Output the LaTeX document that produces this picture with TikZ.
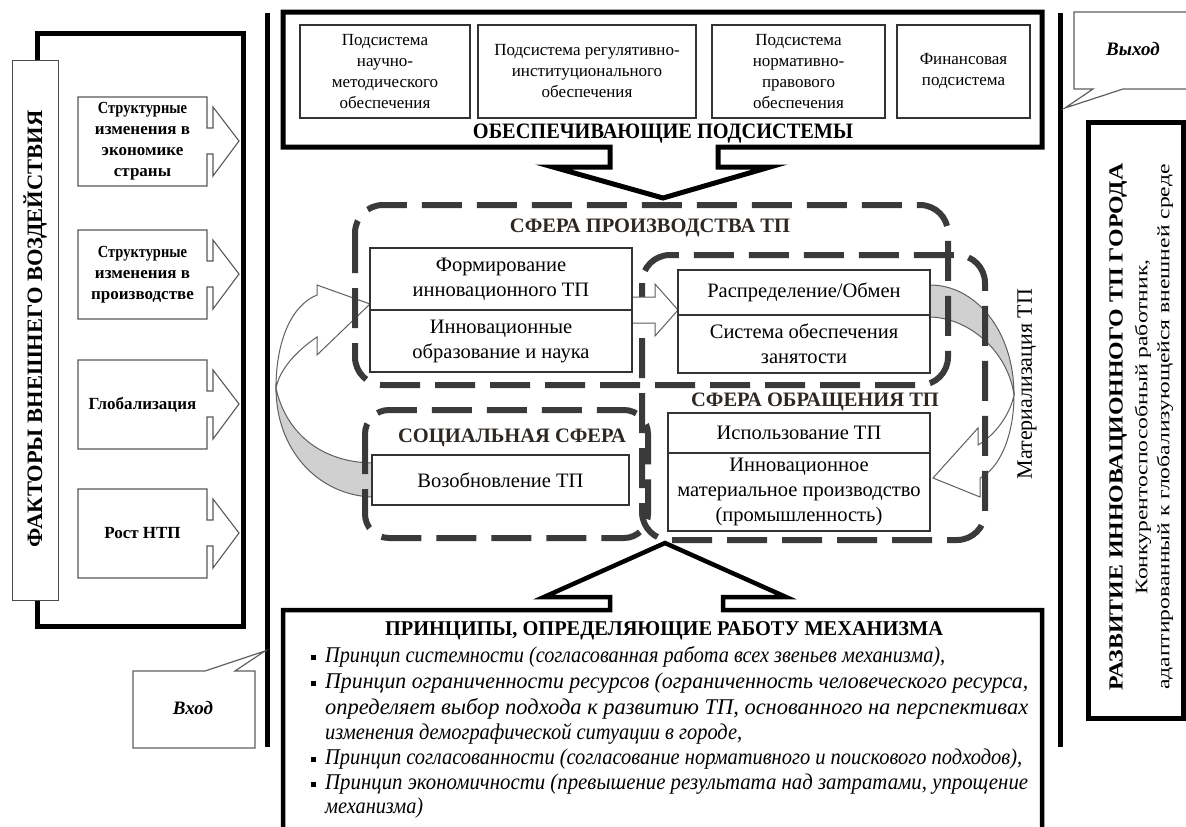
\documentclass[tikz,border=0pt]{standalone}
\usepackage{graphicx}
\usepackage{fontspec}
\setmainfont{Liberation Serif}
\definecolor{dashc}{RGB}{58,58,58}
\definecolor{bandc}{RGB}{208,208,208}
\definecolor{edgec}{RGB}{95,95,95}
\definecolor{titlec}{RGB}{45,40,35}
\newcommand\factorshape[1]{%
  \draw[factorline] (78,#1) -- (207,#1) -- (207,#1+31) -- (213,#1+31) -- (213,#1+10) -- (239,#1+44) -- (213,#1+79) -- (213,#1+57) -- (207,#1+57) -- (207,#1+89) -- (78,#1+89) -- cycle;}
\newcommand\fsTop{\fontsize{17}{21}\selectfont}
\newcommand\fsMid{\fontsize{20.5}{25}\selectfont}
\newcommand\fsFac{\bfseries\fontsize{17}{21}\selectfont}
\newcommand\fsList{\itshape\fontsize{22.5}{26}\selectfont}
\tikzset{
  heavy/.style={draw=black, line width=5pt, line join=miter},
  thinbox/.style={draw=black!80, line width=1.1pt, fill=white, inner sep=0pt, align=center},
  factorline/.style={draw=black!65, line width=1.1pt, fill=white},
  sphere/.style={draw=dashc, line width=6pt, dash pattern=on 40pt off 15pt, rounded corners=28pt},
  callout/.style={draw=edgec, line width=1.2pt, fill=white},
  band/.style={draw=edgec, line width=1pt, fill=bandc},
  hollow/.style={draw=edgec, line width=1pt, fill=white},
  txt/.style={inner sep=0pt, align=center},
  spheretitle/.style={inner sep=0pt, text=titlec, font=\bfseries\fontsize{20.5}{24}\selectfont},
}
\begin{document}
\begin{tikzpicture}[x=1pt,y=-1pt]
\useasboundingbox (0,0) rectangle (1186,827);
\fill[white] (0,0) rectangle (1186,827);

% ---------- left: factors ----------
\draw[heavy] (37,33) rectangle (243,626);
\node[draw=black!70, line width=1pt, fill=white, minimum width=46pt, minimum height=540pt, inner sep=0pt] (ftitlebox) at (35,330) {};
\node[txt, rotate=90] (ftitle) at (35,329) {\resizebox{437pt}{\height}{\bfseries\fontsize{22}{26}\selectfont ФАКТОРЫ ВНЕШНЕГО ВОЗДЕЙСТВИЯ}};
\factorshape{97}
\factorshape{230}
\factorshape{360}
\factorshape{489}
\node[txt, font=\fsFac] (f1) at (142.5,141.5) {\scalebox{0.85}[1]{Структурные}\\изменения в\\экономике\\страны};
\node[txt, font=\fsFac] (f2) at (142.5,274.5) {\scalebox{0.85}[1]{Структурные}\\изменения в\\производстве};
\node[txt, font=\fsFac] (f3) at (142.5,404.5) {Глобализация};
\node[txt, font=\fsFac] (f4) at (142.5,533.5) {Рост НТП};

% ---------- vertical separators ----------
\coordinate (vlt) at (267,13);
\coordinate (vlb) at (267,747);
\coordinate (vrt) at (1060,13);
\coordinate (vrb) at (1060,747);
\draw[line width=5pt] (vlt) -- (vlb);
\draw[line width=5pt] (vrt) -- (vrb);

% ---------- callouts ----------
\draw[callout] (133,671) -- (205,671) -- (265,651) -- (235,671) -- (255,671) -- (255,748) -- (133,748) -- cycle;
\node[txt, font=\bfseries\itshape\fontsize{19}{23}\selectfont] (vhod) at (193,708) {Вход};
\draw[callout] (1074,12) -- (1200,12) -- (1200,89) -- (1123,89) -- (1065,108) -- (1093,89) -- (1074,89) -- cycle;
\node[txt, font=\bfseries\itshape\fontsize{19}{23}\selectfont] (vyhod) at (1133,49) {Выход};

% ---------- top frame: supporting subsystems ----------
\draw[heavy, fill=white] (283,12) -- (1042,12) -- (1042,147) -- (718,147) -- (718,167) -- (770,167) -- (663,198) -- (553,167) -- (610,167) -- (610,147) -- (283,147) -- cycle;
\node[thinbox, minimum width=170pt, minimum height=93pt, font=\fsTop] (s1) at (385,71.5) {Подсистема\\научно-\\методического\\обеспечения};
\node[thinbox, minimum width=218pt, minimum height=93pt, font=\fsTop] (s2) at (587,71.5) {Подсистема регулятивно-\\институционального\\обеспечения};
\node[thinbox, minimum width=173pt, minimum height=93pt, font=\fsTop] (s3) at (798.5,71.5) {Подсистема\\нормативно-\\правового\\обеспечения};
\node[thinbox, minimum width=133pt, minimum height=93pt, font=\fsTop] (s4) at (963.5,71.5) {Финансовая\\подсистема};
\node[txt] (stitle) at (663,134) {\resizebox{380pt}{\height}{\bfseries\fontsize{22}{26}\selectfont ОБЕСПЕЧИВАЮЩИЕ ПОДСИСТЕМЫ}};

% ---------- curved arrows (under the dashed spheres) ----------
\draw[band] (372,497) .. controls (318,495) and (276,450) .. (276,388) .. controls (285,430) and (318,462) .. (372,463) -- cycle;
\draw[hollow] (317,285) -- (370,304) -- (317,355) -- (317,337) .. controls (298,350) and (280,368) .. (276,388) .. controls (276,340) and (292,305) .. (317,295) -- cycle;
\draw[band] (930,285) .. controls (975,285) and (1014,330) .. (1014,395) .. controls (1008,352) and (970,318) .. (930,317) -- cycle;
\draw[hollow] (978,428) -- (933,478) -- (980,497) -- (980,478) .. controls (1000,468) and (1014,435) .. (1014,395) .. controls (1010,415) and (995,435) .. (978,445) -- cycle;

% ---------- dashed spheres ----------
\draw[sphere] (355,205) rectangle (948,385);
\draw[sphere] (642,255) rectangle (985,540);
\draw[sphere, rounded corners=24pt] (365,410) rectangle (648,538);

% ---------- hollow arrow between boxes ----------
\draw[hollow] (632,297) -- (655,297) -- (655,284) -- (678,310) -- (655,336) -- (655,323) -- (632,323);

% ---------- inner boxes ----------
\node[spheretitle] (tprod) at (650,228) {СФЕРА ПРОИЗВОДСТВА ТП};
\node[thinbox, minimum width=262pt, minimum height=62pt, font=\fsMid] (pf1) at (501,279) {Формирование\\инновационного ТП};
\node[thinbox, minimum width=262pt, minimum height=62pt, font=\fsMid] (pf2) at (501,341) {Инновационные\\образование и наука};
\node[thinbox, minimum width=252pt, minimum height=45pt, font=\fsMid] (rd1) at (804,292.5) {Распределение/Обмен};
\node[thinbox, minimum width=252pt, minimum height=58pt, font=\fsMid] (rd2) at (804,344) {Система обеспечения\\занятости};
\node[spheretitle] (tobr) at (815,402) {СФЕРА ОБРАЩЕНИЯ ТП};
\node[thinbox, minimum width=262pt, minimum height=40pt, font=\fsMid] (us1) at (799,433) {Использование ТП};
\node[thinbox, minimum width=262pt, minimum height=78pt, font=\fsMid] (us2) at (799,492) {Инновационное\\материальное производство\\(промышленность)};
\node[spheretitle] (tsoc) at (512,438) {СОЦИАЛЬНАЯ СФЕРА};
\node[thinbox, minimum width=257pt, minimum height=50pt, font=\fsMid] (vz) at (500.5,480) {Возобновление ТП};

\node[txt, rotate=90, font=\fontsize{22}{26}\selectfont] (mat) at (1027,384) {Материализация ТП};

% ---------- bottom frame: principles ----------
\draw[line width=4.5pt, line join=miter, fill=white] (283,835) -- (283,610) -- (610,610) -- (610,597) -- (544,597) -- (665,543) -- (786,597) -- (723,597) -- (723,610) -- (1042,610) -- (1042,835);
\node[txt] (ptitle) at (664,631) {\resizebox{558pt}{\height}{\bfseries\fontsize{21}{25}\selectfont ПРИНЦИПЫ, ОПРЕДЕЛЯЮЩИЕ РАБОТУ МЕХАНИЗМА}};
\foreach \yy/\nm in {657/b1, 683/b2, 759/b3, 784/b4}
  \node[fill=black, minimum size=5pt, inner sep=0pt] (\nm) at (313,\yy) {};
\node[txt, anchor=west] (l1) at (325,657) {\resizebox{620pt}{\height}{\fsList Принцип системности (согласованная работа всех звеньев механизма),}};
\node[txt, anchor=west] (l2) at (325,683) {\resizebox{703pt}{\height}{\fsList Принцип ограниченности ресурсов (ограниченность человеческого ресурса,}};
\node[txt, anchor=west] (l3) at (325,709) {\resizebox{703pt}{\height}{\fsList определяет выбор подхода к развитию ТП, основанного на перспективах}};
\node[txt, anchor=west] (l4) at (325,734) {\resizebox{417pt}{\height}{\fsList изменения демографической ситуации в городе,}};
\node[txt, anchor=west] (l5) at (325,759) {\resizebox{697pt}{\height}{\fsList Принцип согласованности (согласование нормативного и поискового подходов),}};
\node[txt, anchor=west] (l6) at (325,784) {\resizebox{703pt}{\height}{\fsList Принцип экономичности (превышение результата над затратами, упрощение}};
\node[txt, anchor=west] (l7) at (325,808) {\resizebox{98pt}{\height}{\fsList механизма)}};

% ---------- right: output ----------
\draw[heavy] (1088,122) rectangle (1183,718);
\node[txt, rotate=90] (r1) at (1118,427) {\resizebox{527pt}{\height}{\bfseries\fontsize{20}{24}\selectfont РАЗВИТИЕ ИННОВАЦИОННОГО ТП ГОРОДА}};
\node[txt, rotate=90] (r2) at (1143,427) {\resizebox{335pt}{\height}{\fontsize{17.5}{21}\selectfont Конкурентоспособный работник,}};
\node[txt, rotate=90] (r3) at (1165,427) {\resizebox{525pt}{\height}{\fontsize{17.5}{21}\selectfont адаптированный к глобализующейся внешней среде}};
\end{tikzpicture}
\end{document}
